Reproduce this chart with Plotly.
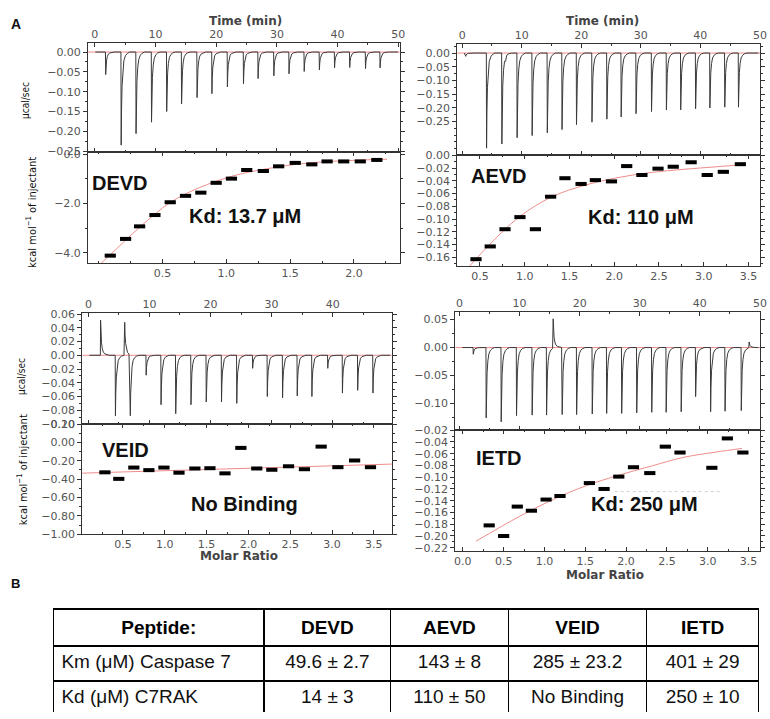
import plotly.graph_objects as go

W, H = 770, 719

# ---------------- DATA ----------------
# Raw thermograms: injection times (min) and peak heights (ucal/sec)
TL_t = [1.8, 4.35, 6.8, 9.35, 11.85, 14.3, 16.85, 19.3, 21.85, 24.5, 26.9, 29.5, 32.0, 34.5, 37.0, 39.5, 42.0, 44.6, 47.0]
TL_d = [-0.057, -0.235, -0.206, -0.177, -0.150, -0.131, -0.115, -0.105, -0.088, -0.080, -0.067, -0.060,
        -0.055, -0.049, -0.045, -0.040, -0.039, -0.042, -0.040]

TR_t = [0.6, 4.1, 6.67, 7.3, 9.23, 11.75, 14.3, 16.77, 19.2, 21.8, 24.3, 26.7, 29.2, 31.8, 34.3, 36.7, 39.2, 41.6, 44.1, 46.4]
TR_d = [-0.012, -0.348, -0.333, -0.03, -0.310, -0.302, -0.292, -0.280, -0.262, -0.253, -0.242, -0.234, -0.222,
        -0.214, -0.208, -0.208, -0.204, -0.201, -0.198, -0.198]

BL_t = [2.0, 4.43, 5.95, 6.87, 9.46, 11.9, 14.3, 16.8, 19.3, 21.8, 24.3, 26.9, 29.3, 31.8, 34.2, 36.6, 39.2, 41.6, 44.1, 46.6]
BL_d = [0.051, -0.088, 0.048, -0.088, -0.029, -0.072, -0.085, -0.072, -0.068, -0.068, -0.070, -0.019, -0.060,
        -0.062, -0.059, -0.060, -0.019, -0.055, -0.051, -0.055]

BR_t = [2.3, 4.45, 6.95, 9.5, 12.1, 14.5, 15.6, 17.1, 19.5, 22.1, 24.5, 27.0, 29.5, 32.0, 34.4, 36.9, 39.3, 41.8, 44.2, 46.9, 48.2]
BR_d = [-0.012, -0.126, -0.133, -0.122, -0.121, -0.121, 0.0515, -0.120, -0.120, -0.119, -0.118, -0.118, -0.117,
        -0.116, -0.116, -0.115, -0.088, -0.115, -0.114, -0.113, 0.01]

# Integrated heats (kcal/mol of injectant) vs molar ratio
DEVD_r = [0.09, 0.21, 0.32, 0.44, 0.56, 0.68, 0.80, 0.92, 1.04, 1.16, 1.29, 1.41, 1.54, 1.67, 1.79, 1.92, 2.05, 2.18]
DEVD_v = [-4.12, -3.44, -2.93, -2.47, -1.95, -1.69, -1.56, -1.16, -0.99, -0.64, -0.68, -0.49, -0.35, -0.41,
          -0.29, -0.29, -0.29, -0.23]
DEVD_fit_r = [-0.016, 0.089, 0.322, 0.56, 0.787, 1.046, 1.304, 1.56, 1.82, 2.08, 2.26]
DEVD_fit_v = [-4.6, -4.09, -2.96, -1.96, -1.36, -0.89, -0.60, -0.40, -0.29, -0.23, -0.20]

AEVD_r = [0.456, 0.615, 0.78, 0.947, 1.12, 1.29, 1.45, 1.63, 1.79, 1.97, 2.14, 2.31, 2.49, 2.66, 2.86, 3.04, 3.22, 3.41]
AEVD_v = [-0.163, -0.143, -0.116, -0.097, -0.116, -0.065, -0.036, -0.045, -0.039, -0.041, -0.017, -0.031,
          -0.021, -0.018, -0.011, -0.031, -0.026, -0.014]
AEVD_fit_r = [0.309, 0.567, 0.936, 1.306, 1.674, 2.043, 2.413, 2.78, 3.15, 3.45]
AEVD_fit_v = [-0.186, -0.146, -0.097, -0.065, -0.047, -0.035, -0.027, -0.022, -0.018, -0.0145]

VEID_r = [0.284, 0.45, 0.63, 0.81, 0.99, 1.17, 1.36, 1.54, 1.72, 1.91, 2.10, 2.28, 2.48, 2.67, 2.87, 3.07, 3.27, 3.46]
VEID_v = [-0.326, -0.397, -0.274, -0.302, -0.274, -0.33, -0.284, -0.281, -0.337, -0.06, -0.284, -0.298,
          -0.26, -0.292, -0.046, -0.27, -0.197, -0.27]
VEID_fit_r = [0.0, 3.72]
VEID_fit_v = [-0.335, -0.236]

IETD_r = [0.323, 0.50, 0.667, 0.84, 1.02, 1.19, 1.55, 1.73, 1.91, 2.09, 2.29, 2.48, 2.66, 3.05, 3.24, 3.43]
IETD_v = [-0.182, -0.200, -0.150, -0.157, -0.138, -0.132, -0.110, -0.120, -0.099, -0.083, -0.093, -0.048,
          -0.058, -0.084, -0.034, -0.058]
IETD_fit_r = [0.16, 0.69, 1.09, 1.50, 1.90, 2.31, 2.71, 3.11, 3.42]
IETD_fit_v = [-0.209, -0.167, -0.139, -0.115, -0.097, -0.081, -0.066, -0.057, -0.051]
IETD_dots_r = [1.86, 3.15]
IETD_dots_v = [-0.1245, -0.1245]

# Table
TABLE_HEADER = ["Peptide:", "DEVD", "AEVD", "VEID", "IETD"]
TABLE_ROWS = [
    ["Km (μM) Caspase 7", "49.6 ± 2.7", "143 ± 8", "285 ± 23.2", "401 ± 29"],
    ["Kd (μM) C7RAK", "14 ± 3", "110 ± 50", "No Binding", "250 ± 10"],
]

# ---------------- STYLE / LAYOUT ----------------
# peak shape template (time offset, fraction of peak height) - rendering style
SHAPE_DT = [0.0, 0.06, 0.15, 0.28, 0.45, 0.7, 1.0, 1.4]
SHAPE_FR = [1.0, 0.62, 0.36, 0.19, 0.09, 0.04, 0.015, 0.0]

def X(p): return p / W
def Y(p): return 1 - p / H

def thermogram(times, depths, t0, t1):
    xs, ys = [t0], [0.0]
    order = sorted(range(len(times)), key=lambda i: times[i])
    for k, i in enumerate(order):
        t, d = times[i], depths[i]
        nxt = times[order[k + 1]] if k + 1 < len(order) else t1
        if t - xs[-1] > 0.3:
            xs.append(t - 0.04); ys.append(0.0)
        for dt, fr in zip(SHAPE_DT, SHAPE_FR):
            if t + dt < nxt - 0.05:
                xs.append(t + dt); ys.append(d * fr)
    xs.append(t1); ys.append(0.0)
    return xs, ys

RAW_COL = '#3a3a3a'
FIT_COL = '#f08c8c'
TICKFONT = dict(family='DejaVu Sans', size=11, color='#555')
AX = '#333'

# subplot rectangles in pixels: (x0, x1, y0, y1)
RECTS = {
    1: (88, 403, 38, 149), 2: (88, 403, 149, 262),
    3: (461, 767, 39, 152), 4: (461, 767, 152, 265),
    5: (82, 395, 313, 425.7), 6: (82, 395, 425.7, 538),
    7: (459, 767, 312, 432), 8: (459, 767, 432, 555),
}

fig = go.Figure()

xranges = {1: [-1.1, 50.25], 3: [-0.83, 50.02], 5: [-1.02, 49.7], 7: [-0.70, 50.02],
           2: [-0.084, 2.36], 4: [0.246, 3.63], 6: [0.012, 3.716], 8: [-0.093, 3.64]}

for idx, tt, dd in [(1, TL_t, TL_d), (3, TR_t, TR_d), (5, BL_t, BL_d), (7, BR_t, BR_d)]:
    a, b = xranges[idx]
    xs, ys = thermogram(tt, dd, a + 1.2, b - 0.3)
    fig.add_trace(go.Scatter(x=[a, b], y=[0, 0], mode='lines', line=dict(color=FIT_COL, width=1),
                             xaxis=f'x{idx}', yaxis=f'y{idx}', hoverinfo='skip'))
    fig.add_trace(go.Scatter(x=xs, y=ys, mode='lines', line=dict(color=RAW_COL, width=1),
                             xaxis=f'x{idx}', yaxis=f'y{idx}'))

int_sets = [(2, DEVD_r, DEVD_v, DEVD_fit_r, DEVD_fit_v), (4, AEVD_r, AEVD_v, AEVD_fit_r, AEVD_fit_v),
            (6, VEID_r, VEID_v, VEID_fit_r, VEID_fit_v), (8, IETD_r, IETD_v, IETD_fit_r, IETD_fit_v)]
for idx, r, v, fr, fv in int_sets:
    fig.add_trace(go.Scatter(x=fr, y=fv, mode='lines', line=dict(color=FIT_COL, width=1, shape='spline'),
                             xaxis=f'x{idx}', yaxis=f'y{idx}'))
    fig.add_trace(go.Scatter(x=r, y=v, mode='markers',
                             marker=dict(symbol='line-ew', size=8, line=dict(width=4, color='black')),
                             xaxis=f'x{idx}', yaxis=f'y{idx}', cliponaxis=False))
fig.add_trace(go.Scatter(x=IETD_dots_r, y=IETD_dots_v, mode='lines',
                         line=dict(color='#d0d0d0', width=1, dash='dot'), xaxis='x8', yaxis='y8'))

def base_axis():
    return dict(showline=True, linecolor=AX, linewidth=1, mirror='ticks', showgrid=False, zeroline=False,
                tickfont=TICKFONT, tickcolor=AX, ticklen=4, tickwidth=1)

layout_axes = {}
yranges = {1: [-0.253, 0.022], 2: [-4.43, 0.08], 3: [-0.374, 0.032], 4: [-0.174, 0.0],
           5: [-0.1, 0.061], 6: [-1.0, 0.2], 7: [-0.148, 0.063], 8: [-0.2255, -0.02]}
ytick = {
    1: dict(tickvals=[0, -0.05, -0.10, -0.15, -0.20, -0.25], tickformat='.2f', minor=dict(dtick=0.025, tick0=0)),
    2: dict(tickvals=[0.0, -2.0, -4.0], tickformat='.1f', minor=dict(dtick=1, tick0=0)),
    3: dict(tickvals=[0, -0.05, -0.10, -0.15, -0.20, -0.25], tickformat='.2f', minor=dict(dtick=0.025, tick0=0)),
    4: dict(tickvals=[0, -0.02, -0.04, -0.06, -0.08, -0.10, -0.12, -0.14, -0.16], tickformat='.2f',
            minor=dict(dtick=0.01, tick0=0)),
    5: dict(tickvals=[0.06, 0.04, 0.02, 0, -0.02, -0.04, -0.06, -0.08, -0.10], tickformat='.2f',
            minor=dict(dtick=0.01, tick0=0)),
    6: dict(tickvals=[0.2, 0, -0.2, -0.4, -0.6, -0.8, -1.0], tickformat='.2f', minor=dict(dtick=0.1, tick0=0)),
    7: dict(tickvals=[0.05, 0, -0.05, -0.10], tickformat='.2f', minor=dict(dtick=0.025, tick0=0)),
    8: dict(tickvals=[-0.02, -0.04, -0.06, -0.08, -0.10, -0.12, -0.14, -0.16, -0.18, -0.20, -0.22],
            tickformat='.2f', minor=dict(dtick=0.01, tick0=0)),
}
ratio_ticks = {2: [0.5, 1.0, 1.5, 2.0], 4: [0.5, 1.0, 1.5, 2.0, 2.5, 3.0, 3.5],
               6: [0.5, 1.0, 1.5, 2.0, 2.5, 3.0, 3.5], 8: [0.0, 0.5, 1.0, 1.5, 2.0, 2.5, 3.0, 3.5]}

for i, (x0, x1, y0, y1) in RECTS.items():
    xa = base_axis()
    xa.update(domain=[X(x0), X(x1)], range=xranges[i], anchor=f'y{i}', ticks='inside')
    if i % 2 == 1:
        xa.update(side='top', tickvals=[0, 10, 20, 30, 40, 50],
                  minor=dict(dtick=5, tick0=0, ticks='inside', ticklen=2, tickcolor=AX))
    else:
        xa.update(side='bottom', tickvals=ratio_ticks[i], tickformat='.1f',
                  minor=dict(dtick=0.25, tick0=0, ticks='inside', ticklen=2, tickcolor=AX))
    ya = base_axis()
    ya.update(domain=[Y(y1), Y(y0)], range=yranges[i], anchor=f'x{i}', ticks='outside')
    yt = dict(ytick[i])
    mn = yt.pop('minor')
    mn.update(ticks='outside', ticklen=2, tickcolor=AX)
    ya.update(yt, minor=mn)
    layout_axes['xaxis' if i == 1 else f'xaxis{i}'] = xa
    layout_axes['yaxis' if i == 1 else f'yaxis{i}'] = ya

# table
cols = [[row[c] for row in TABLE_ROWS] for c in range(len(TABLE_HEADER))]
fig.add_trace(go.Table(
    domain=dict(x=[X(53), X(766)], y=[0, Y(614)]),
    columnwidth=[213, 128, 119, 140, 113],
    header=dict(values=[f'<b>{h}</b>' for h in TABLE_HEADER], align='center', height=37,
                fill=dict(color='white'), line=dict(color='black', width=1.5),
                font=dict(family='Liberation Sans, Arial, sans-serif', size=19, color='black')),
    cells=dict(values=cols, align=['left', 'center', 'center', 'center', 'center'], height=35,
               fill=dict(color='white'), line=dict(color='black', width=1.5),
               font=dict(family='Liberation Sans, Arial, sans-serif', size=19, color='#111')),
))

ann = []
def add_text(text, x, y, size, family='Liberation Sans, Arial, sans-serif', color='#111', angle=0, bold=False):
    ann.append(dict(text=f'<b>{text}</b>' if bold else text, x=X(x), y=Y(y), xref='paper', yref='paper',
                    showarrow=False, xanchor='center', yanchor='middle', textangle=angle,
                    font=dict(family=family, size=size, color=color)))

add_text('A', 15, 18, 14, bold=True)
add_text('B', 15, 588, 13, bold=True)
for xc in (247, 608):
    add_text('Time (min)', xc, 15, 12, family='DejaVu Sans', color='#444', bold=True)
add_text('Molar Ratio', 240, 560, 12, family='DejaVu Sans', color='#444', bold=True)
add_text('Molar Ratio', 610, 579, 12, family='DejaVu Sans', color='#444', bold=True)
NARROW = 'Liberation Sans Narrow, DejaVu Sans Condensed, Arial Narrow, sans-serif'
add_text('μcal/sec', 25, 96, 10, family=NARROW, angle=-90)
add_text('kcal mol<sup>−1</sup> of injectant', 31, 210, 11, family=NARROW, angle=-90)
add_text('μcal/sec', 20, 377, 10, family=NARROW, angle=-90)
add_text('kcal mol<sup>−1</sup> of injectant', 22, 472, 11, family=NARROW, angle=-90)

add_text('DEVD', 120, 180, 20, bold=True)
add_text('Kd: 13.7 μM', 247, 214, 20, bold=True)
add_text('AEVD', 503, 173, 20, bold=True)
add_text('Kd: 110 μM', 647, 215, 20, bold=True)
add_text('VEID', 126, 452, 20, bold=True)
add_text('No Binding', 246, 507, 20, bold=True)
add_text('IETD', 503, 460, 20, bold=True)
add_text('Kd: 250 μM', 650, 507, 20, bold=True)

fig.update_layout(width=W, height=H, margin=dict(l=0, r=0, t=0, b=0), showlegend=False,
                  plot_bgcolor='white', paper_bgcolor='white', annotations=ann, **layout_axes)

fig.write_html('out.html', config={'displayModeBar': False},
               post_script="document.body.style.margin='0';document.body.style.padding='0';")
